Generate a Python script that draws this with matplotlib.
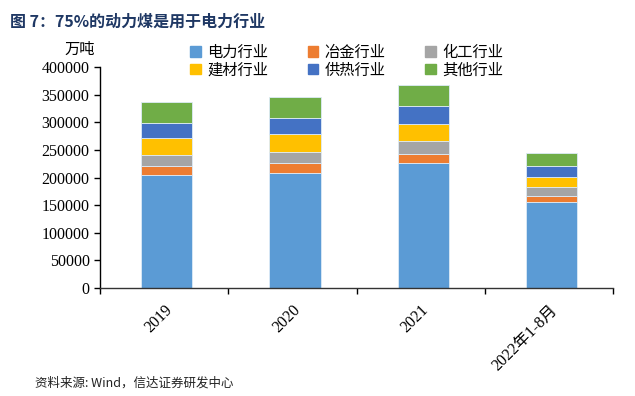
import matplotlib.pyplot as plt
import matplotlib.patches as mpatches
import numpy as np

plt.rcParams['font.family'] = ['Noto Sans CJK SC', 'DejaVu Sans']

categories = ["2019", "2020", "2021", "2022年1-8月"]
series_names = ["电力行业", "冶金行业", "化工行业", "建材行业", "供热行业", "其他行业"]
power = [205000, 208700, 225700, 155700]
metallurgy = [16000, 17500, 17400, 11400]
chemical = [19000, 20500, 22400, 15100]
building = [31000, 32600, 31900, 18700]
heating = [28000, 29000, 31400, 20500]
other = [37000, 36800, 38600, 23500]
colors = ["#5B9BD5", "#ED7D31", "#A5A5A5", "#FFC000", "#4472C4", "#70AD47"]

series = [power, metallurgy, chemical, building, heating, other]

fig = plt.figure(figsize=(6.35, 3.96), dpi=100)
ax = fig.add_axes([0.1575, 0.2727, 0.808, 0.5581])

x = np.arange(len(categories))
bottom = np.zeros(len(categories))
for name, vals, c in zip(series_names, series, colors):
    ax.bar(x + 0.02, vals, width=0.4, bottom=bottom, color=c, edgecolor="#DDEBF7",
           linewidth=0.6, label=name)
    bottom += np.array(vals)

ax.set_xlim(-0.5, 3.5)
ax.set_ylim(0, 400000)
ax.set_yticks(np.arange(0, 400001, 50000))
ax.set_yticklabels([str(v) for v in range(0, 400001, 50000)])
ax.set_xticks(np.arange(-0.5, 3.6, 1))
ax.set_xticklabels([])
ax.set_xticks(x, minor=True)
ax.set_xticklabels(categories, minor=True, rotation=45, ha="right",
                   rotation_mode="anchor")
ax.tick_params(axis="y", labelfontfamily="Liberation Serif", labelsize=11.5)
ax.tick_params(axis="x", which="minor", labelfontfamily=["Liberation Serif", "Noto Sans CJK SC"],
               labelsize=11.5, length=0, pad=10)
ax.tick_params(axis="x", which="major", direction="out", length=4, width=1)
ax.tick_params(axis="y", direction="out", length=4, width=1)
for s in ["top", "right"]:
    ax.spines[s].set_visible(False)
ax.spines["left"].set_linewidth(1)
ax.spines["bottom"].set_linewidth(1)
ax.spines["bottom"].set_color("#333333")

handles = [mpatches.Patch(color=c) for c in colors]
order = [0, 3, 1, 4, 2, 5]
fig.legend([handles[i] for i in order], [series_names[i] for i in order],
           ncol=3, loc="upper left", bbox_to_anchor=(0.29, 0.905), frameon=False,
           fontsize=11, handlelength=0.7, handleheight=0.7, handletextpad=0.4,
           columnspacing=2.6, labelspacing=0.05, borderaxespad=0)

fig.text(0.102, 0.875, "万吨", fontsize=11, ha="left", va="center")
fig.text(0.016, 0.944, "图 7：75%的动力煤是用于电力行业", fontsize=11.5,
         fontweight="bold", color="#1F3864", ha="left", va="center")
fig.text(0.055, 0.033, "资料来源: Wind，信达证券研发中心", fontsize=9,
         style="italic", color="#222222", ha="left", va="center")

fig.savefig("out.png", dpi=100)
